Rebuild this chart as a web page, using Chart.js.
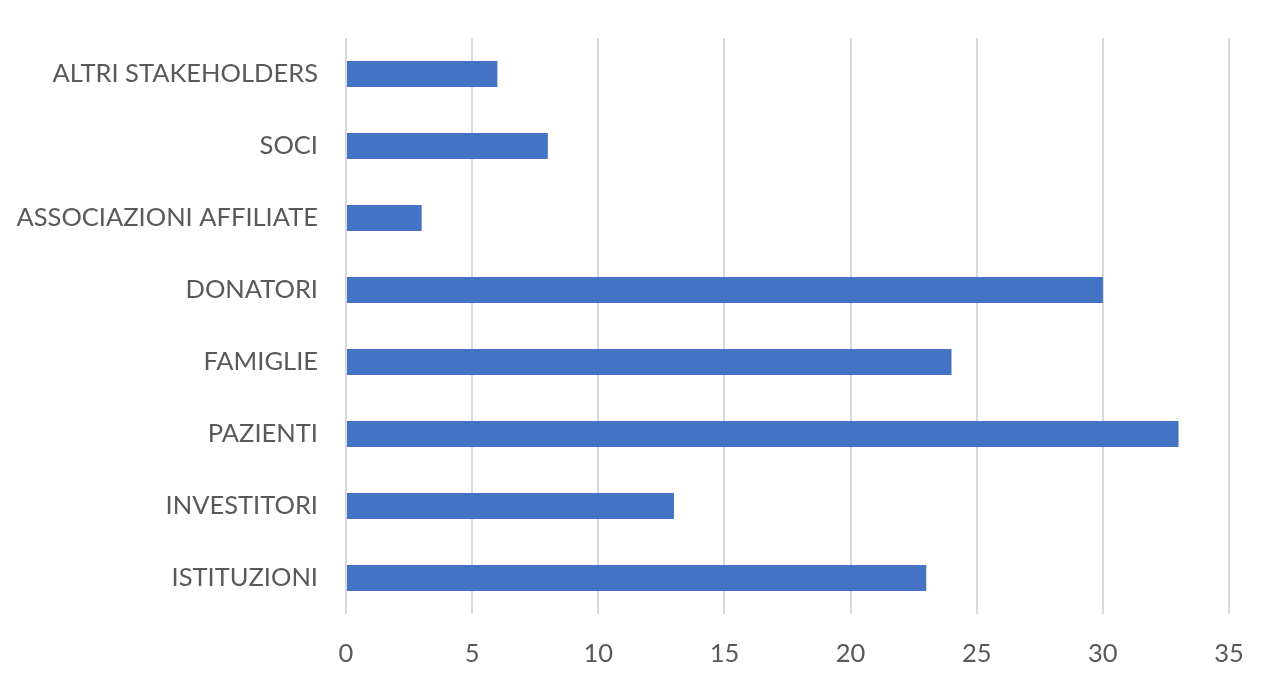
<!DOCTYPE html>
<html>
<head>
<meta charset="utf-8">
<script src="https://cdn.jsdelivr.net/npm/chart.js@4"></script>
<style>
html,body{margin:0;padding:0;background:#fff;}
#wrap{width:1266px;height:694px;position:relative;}
</style>
</head>
<body>
<div id="wrap"><canvas id="c" width="1266" height="694"></canvas></div>
<script>
const categories = ["ALTRI STAKEHOLDERS","SOCI","ASSOCIAZIONI AFFILIATE","DONATORI","FAMIGLIE","PAZIENTI","INVESTITORI","ISTITUZIONI"];
const values = [6, 8, 3, 30, 24, 33, 13, 23];
const xMin = 0, xMax = 35, xStep = 5;

const fontFamily = "Lato, 'Liberation Sans', sans-serif";
new Chart(document.getElementById('c'), {
  type: 'bar',
  data: {
    labels: categories,
    datasets: [{
      data: values,
      backgroundColor: '#4472C4',
      borderWidth: 0,
      barPercentage: 0.36,
      categoryPercentage: 1
    }]
  },
  options: {
    indexAxis: 'y',
    responsive: false,
    animation: false,
    layout: { padding: { top: 38, right: 37, left: 0, bottom: 0 } },
    plugins: { legend: { display: false }, tooltip: { enabled: false } },
    scales: {
      x: {
        min: xMin, max: xMax,
        ticks: { stepSize: xStep, color: '#595959', font: { family: fontFamily, size: 25.5 }, padding: 24 },
        grid: { color: '#d9d9d9', lineWidth: 2, drawTicks: false },
        border: { display: false },
        afterFit: (s) => { s.height = 80; s.paddingLeft = 0; s.paddingRight = 0; }
      },
      y: {
        ticks: { color: '#595959', font: { family: fontFamily, size: 25.5 }, padding: 28 },
        grid: { display: false, drawTicks: false },
        border: { display: false },
        afterFit: (s) => { s.width = 346; s.paddingTop = 0; s.paddingBottom = 0; }
      }
    }
  }
});
</script>
</body>
</html>
